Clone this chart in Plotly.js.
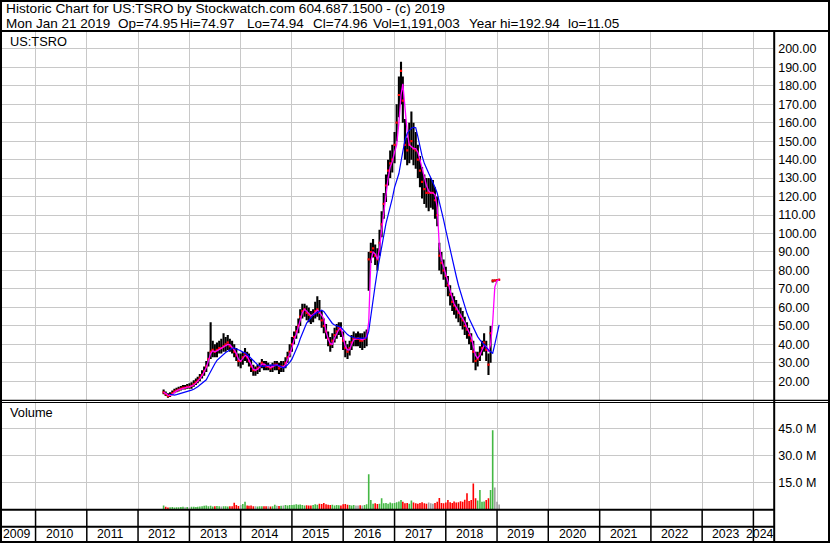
<!DOCTYPE html>
<html><head><meta charset="utf-8">
<script src="https://cdn.plot.ly/plotly-3.0.1.min.js"></script>
<style>html,body{margin:0;padding:0;background:#fff;overflow:hidden}#chart{width:830px;height:543px}</style>
</head><body><div id="chart"></div>
<script>
// ---- data (half-monthly samples, Jul 2012 - Jan 2019) ----
const closeP = [
14,13,12,12.5,13.5,14.5,15,15.5,16,16.5,16.5,17,
17,17.5,18.5,19.5,20.5,22,23.5,25.5,28,32,36,37,36,37,38,38,39,40,41,39,38,36,34,31,
31,33,35,33,31,28,26,26,27,28,30,29,28,28,27,28,29,29,27,28,28,30,33,36,
40,44,47,50,55,58,59,57,56,55,56,58,59,57,53,50,47,43,40,42,45,47,49,48,
42,38,36,38,41,43,43,43,42,42,43,44,86,90,92,88,86,95,105,116,126,134,138,140,
148,160,175,188,172,148,145,148,150,146,145,140,134,128,124,122,122,122,122,118,110,88,84,80,
77,72,67,63,61,59,57,55,53,50,48,45,42,36,31,32,35,38,41,37,29,46,74.5,74.6,
74.8,74.96];
const highP = [
15.5,14.5,13.5,14,15,16,16.5,17,17.5,18,18,18.5,
19,19.5,20.5,21.5,22.5,24,26,28,31,36,52,42,40,41,42,43,46,44,45,43,42,40,38,35,
35,36,38,36,35,32,29,28,29,30,32,31,31,30,29,30,31,31,30,31,31,33,36,40,
44,47,50,54,59,62,62,61,60,58,59,63,66,64,58,54,51,47,44,46,49,51,52,52,
47,42,40,42,45,47,46,47,46,46,47,48,90,95,97,94,92,102,112,122,132,140,145,148,
155,170,185,193,185,162,152,160,166,160,155,148,142,136,132,130,130,130,129,125,120,95,90,86,
82,77,72,68,66,64,62,60,58,55,52,49,46,42,36,36,39,42,46,42,35,50,75,75,
75,75];
const lowP = [
13,12,11.05,11.5,12.5,13.5,14,14.5,15,15.5,15.5,16,
16,16,17,18,19,20,21.5,23,25,28,32,33,33,33,35,35,36,36,37,36,35,33,31,28,
27,29,31,30,28,25,23,23,24,25,27,26,26,26,25,25,26,26,24,25,25,27,30,33,
36,40,43,46,50,54,55,53,52,51,52,54,55,53,49,46,43,39,36,38,41,43,45,44,
37,33,32,34,37,39,39,39,38,37,38,39,69,84,87,83,80,88,98,108,117,126,130,133,
138,150,163,170,160,140,137,138,140,137,135,130,125,119,116,114,112,114,113,108,104,80,78,75,
71,66,61,58,56,54,52,50,48,45,43,40,37,30,26,28,31,34,36,31,23.4,30,73.5,74,
74.4,74.8];
const maShort = [
14,13.5,12.5,12.3,13,14,14.8,15.3,15.8,16.3,16.5,16.8,
17,17.3,18,19,20,21.3,23,25,27.5,31,35,36.5,36,36.5,37.3,38,38.7,39.5,40,39.8,38.5,37,35,32,
30.8,32.5,34,33.5,31.5,29,26.5,26,26.5,27.5,29.3,29.3,28.5,28,27.5,27.8,28.5,29,28,27.8,27.8,29,31.5,34.5,
38,42.5,45.5,49,53,57,59,58,57,55.5,56,57.5,58.5,57.5,56,54,47,43,40.5,40,43.5,46,48,49,
44,39,37,37,40,42.5,43,43.3,43,42.5,43,44,52,85,90,89,86,92,102,112,122,130,136,139,
144,148,160,175,181,170,155,148,147,146,146,144,140,135,131,126,123,122,122,121,114,93,86,82,
79,74,69,65,62,60,58,56,54,52,49,46.5,44,39,34,32.5,34,37,39.5,39,36,40,52,71,
74.5,74.9];
const maLong = [
null,null,null,13,12.6,12.5,12.8,13.1,13.5,13.8,14.2,14.6,
14.8,15.2,15.7,16.2,17,18,19,19.8,20.8,23,25.5,27.8,29.5,31.3,32.5,33.8,34.8,35.6,36.3,37.2,37.9,38,37.6,37,
36.5,35.8,35.4,34.5,33.5,32.2,31,29.8,29,28.3,28,28.1,28.4,28.7,28.8,28.8,28.9,28.8,28.5,28,27.3,27.8,28.8,30.2,
32,34.5,37,40,43,46,49,51.5,53,54.5,55.8,56.6,57.3,58.2,58.5,57.8,56,54.2,52.5,51.3,50.5,50,49.7,49.2,
47.8,46.5,45.3,44.5,44,43.6,43.3,43.2,43.2,43.2,43.3,43.5,47,56,64,72,80,86.5,92.5,99,105.5,110,114,119,
125,128.5,132.5,139,145.5,150.5,154.3,156,157,157.5,157.3,152.5,147,142,138,135,132.6,130.2,128,125,121.8,117.5,112.7,107.5,
101.9,96.5,91,86.5,82,77,72,68,64,60.3,56.8,54,51.4,48.7,46,44.2,42.4,41,39.7,38.3,37,36,35.2,40,
45,50.5];
const volumeM = [
2.0,1.2,0.9,1.0,1.1,0.9,1.0,1.0,1.1,1.2,1.0,1.1,
1.0,1.2,1.3,1.1,1.3,1.4,1.6,1.8,2.0,1.6,1.8,1.4,1.5,1.7,1.5,1.4,1.6,1.5,1.4,1.5,1.6,3.5,2.2,1.7,
2.2,2.8,4.0,2.0,1.8,2.0,1.6,1.5,1.4,1.5,1.6,1.5,1.6,1.5,1.4,1.6,2.4,1.8,1.7,1.8,2.0,2.2,2.0,2.2,
2.2,2.4,2.6,2.4,2.5,2.2,2.0,2.1,2.0,1.9,2.2,2.6,2.4,3.0,2.8,3.3,2.6,2.4,2.2,2.4,2.0,2.2,2.1,2.0,
2.6,2.8,2.4,2.2,2.0,2.2,1.9,2.0,2.1,2.0,2.3,2.6,19.5,5.0,3.0,3.2,2.8,3.0,6.0,3.2,3.4,3.0,3.6,3.2,
3.4,3.8,4.2,5.0,4.0,3.2,3.4,3.0,4.8,3.6,3.2,3.0,3.4,3.8,3.2,3.0,3.6,3.2,3.0,3.4,4.0,6.1,3.4,3.2,
3.6,5.0,3.8,3.4,4.2,3.6,3.8,4.4,4.0,5.2,8.8,4.5,5.0,14.3,6.0,4.8,10.6,4.0,4.2,5.0,6.0,10.6,44.1,12.0,
4.0,2.5];
const yearLabels = [2009,2010,2011,2012,2013,2014,2015,2016,2017,2018,2019,2020,2021,2022,2023,2024];
const priceTicks = [20,30,40,50,60,70,80,90,100,110,120,130,140,150,160,170,180,190,200];
const volTicks = [15,30,45];
const volTickText = ['15.0 M','30.0 M','45.0 M'];
const headerLine1 = 'Historic Chart for US:TSRO by Stockwatch.com 604.687.1500 - (c) 2019';
const headerItems = ['Mon Jan 21 2019','Op=74.95','Hi=74.97','Lo=74.94','Cl=74.96','Vol=1,191,003','Year hi=192.94','lo=11.05'];
const headerItemX = [6,118,180,247,313,373,469,568];

// half-month date index
const dates = [];
{ let y = 2012, m = 7;
  while (dates.length < closeP.length) {
    const mm = String(m).padStart(2, '0');
    dates.push(y + '-' + mm + '-01');
    if (dates.length < closeP.length) dates.push(y + '-' + mm + '-16');
    m++; if (m > 12) { m = 1; y++; }
  } }

const volColors = volumeM.map((v, i) => {
  if (i === 0) return '#44b844';
  const d = closeP[i] - closeP[i - 1];
  if (Math.abs(d) < 0.3) return '#a0a0a0';
  return d > 0 ? '#44b844' : '#ff0000';
});

// ---- geometry helpers (pixels -> paper) ----
const W = 830, H = 543;
const PX = v => v / W, PY = v => 1 - v / H;
const FONT = 'Liberation Sans, Arial, sans-serif';
const shapes = [];
function hline(y, x0, x1, w) { shapes.push({type:'line', xref:'paper', yref:'paper', x0:PX(x0), x1:PX(x1), y0:PY(y), y1:PY(y), line:{color:'#000', width:w}, layer:'above'}); }
function vline(x, y0, y1, w) { shapes.push({type:'line', xref:'paper', yref:'paper', x0:PX(x), x1:PX(x), y0:PY(y0), y1:PY(y1), line:{color:'#000', width:w}, layer:'above'}); }
hline(1, 0, 830, 2);
hline(31, 0, 830, 2);
hline(400.3, 0, 830, 1.2);
hline(402.5, 0, 830, 1.2);
hline(509.8, 0, 774, 2);
hline(526.8, 0, 774, 2);
hline(542, 0, 830, 2);
vline(1, 0, 543, 2);
vline(829, 0, 543, 2);
vline(774.2, 31, 543, 2);
yearLabels.slice(1).forEach(yr => {
  shapes.push({type:'line', xref:'x', yref:'paper', x0:yr + '-01-01', x1:yr + '-01-01', y0:PY(541), y1:PY(510), line:{color:'#000', width:1.5}, layer:'above'});
});

const annotations = [];
annotations.push({xref:'paper', yref:'paper', x:PX(5), y:PY(8.6), xanchor:'left', yanchor:'middle', text:headerLine1, showarrow:false, borderpad:0, font:{family:FONT, size:13.7, color:'#000'}});
headerItems.forEach((t, i) => annotations.push({xref:'paper', yref:'paper', x:PX(headerItemX[i] - 1), y:PY(23), xanchor:'left', yanchor:'middle', text:t, showarrow:false, borderpad:0, font:{family:FONT, size:13.5, color:'#000'}}));
annotations.push({xref:'paper', yref:'paper', x:PX(8.5), y:PY(41), xanchor:'left', yanchor:'middle', text:'US:TSRO', showarrow:false, borderpad:0, font:{family:FONT, size:12.8, color:'#000'}});
annotations.push({xref:'paper', yref:'paper', x:PX(8.5), y:PY(413), xanchor:'left', yanchor:'middle', text:'Volume', showarrow:false, borderpad:0, font:{family:FONT, size:12.8, color:'#000'}});
yearLabels.forEach((yr, i) => {
  let a = {yref:'paper', y:PY(534), yanchor:'middle', text:String(yr), showarrow:false, borderpad:0, font:{family:FONT, size:12.3, color:'#000'}};
  if (i === 0) { a.xref = 'paper'; a.x = PX(2); a.xanchor = 'left'; }
  else if (i === yearLabels.length - 1) { a.xref = 'paper'; a.x = PX(775); a.xanchor = 'right'; }
  else { a.xref = 'x'; a.x = yr + '-03-08'; a.xanchor = 'left'; }
  annotations.push(a);
});

const traces = [
  {type:'ohlc', x:dates, open:closeP, high:highP, low:lowP, close:closeP, xaxis:'x', yaxis:'y',
   increasing:{line:{color:'#000', width:2.1}}, decreasing:{line:{color:'#000', width:2.1}}, tickwidth:0.3, hoverinfo:'skip'},
  {type:'scatter', mode:'markers', x:dates, y:closeP, xaxis:'x', yaxis:'y',
   marker:{symbol:'square', size:2.2, color:'#ff0000'}, hoverinfo:'skip'},
  {type:'scatter', mode:'lines', x:dates, y:maShort, xaxis:'x', yaxis:'y', line:{color:'#ff00ff', width:1.3}, hoverinfo:'skip'},
  {type:'scatter', mode:'lines', x:dates, y:maLong, xaxis:'x', yaxis:'y', line:{color:'#0000ff', width:1.2}, connectgaps:false, hoverinfo:'skip'},
  {type:'bar', x:dates, y:volumeM, xaxis:'x', yaxis:'y2', marker:{color:volColors, line:{width:0}}, hoverinfo:'skip'}
];

const layout = {
  width:W, height:H, autosize:false,
  margin:{l:0, r:0, t:0, b:0, pad:0},
  paper_bgcolor:'#fff', plot_bgcolor:'#fff',
  showlegend:false, bargap:0.12,
  font:{family:FONT, size:12.5, color:'#000'},
  xaxis:{type:'date', domain:[PX(2), PX(773.2)], range:['2009-05-07','2024-05-21'],
    tick0:'2010-01-01', dtick:'M12', showgrid:true, gridcolor:'#c8c8c8', gridwidth:1,
    showticklabels:false, ticks:'', zeroline:false, showline:false, anchor:'y2',
    rangeslider:{visible:false}, fixedrange:true},
  yaxis:{domain:[PY(400), PY(32)], range:[9.87, 209.1], side:'right', anchor:'x',
    tickmode:'array', tickvals:priceTicks, tickformat:'.2f', showgrid:true, gridcolor:'#c8c8c8', gridwidth:1,
    zeroline:false, showline:false, ticks:'', ticklabelstandoff:4, tickfont:{family:FONT, size:12.5, color:'#000'}, fixedrange:true},
  yaxis2:{domain:[PY(509), PY(402.5)], range:[0, 59.68], side:'right', anchor:'x',
    tickmode:'array', tickvals:volTicks, ticktext:volTickText, showgrid:true, gridcolor:'#c8c8c8', gridwidth:1,
    zeroline:false, showline:false, ticks:'', ticklabelstandoff:4, tickfont:{family:FONT, size:12.5, color:'#000'}, fixedrange:true},
  shapes:shapes, annotations:annotations
};
Plotly.newPlot('chart', traces, layout, {displayModeBar:false, staticPlot:true});
</script></body></html>
